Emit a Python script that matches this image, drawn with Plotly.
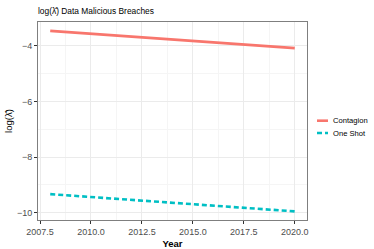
import plotly.graph_objects as go

years = [2008, 2020]
contagion = [-3.46, -4.08]
one_shot = [-9.33, -9.95]
series_names = ["Contagion", "One Shot"]
series_colors = ["#F8766D", "#00BFC4"]
series_dash = ["solid", "5px,3px"]

x_ticks = [2007.5, 2010.0, 2012.5, 2015.0, 2017.5, 2020.0]
x_tick_labels = ["2007.5", "2010.0", "2012.5", "2015.0", "2017.5", "2020.0"]
y_ticks = [-10, -8, -6, -4]
y_tick_labels = ["\u221210", "\u22128", "\u22126", "\u22124"]

font_family = "Liberation Sans, Arial, sans-serif"

W, H = 374, 249
L, R, T, B = 38, 67, 22, 29
pw, ph = W - L - R, H - T - B

fig = go.Figure()
for name, vals, col, dsh in zip(series_names, [contagion, one_shot], series_colors, series_dash):
    fig.add_trace(go.Scatter(x=years, y=vals, mode="lines", name=name, showlegend=False,
                             line=dict(color=col, width=2.6, dash=dsh)))

axis_common = dict(
    showline=True, linecolor="#7F7F7F", linewidth=1, mirror=True,
    ticks="outside", ticklen=3, tickcolor="#333333", tickwidth=1,
    showgrid=True, gridcolor="#EBEBEB", gridwidth=1,
    zeroline=False,
    tickfont=dict(family=font_family, size=9, color="#4D4D4D"),
)

fig.update_xaxes(
    range=[2007.4, 2020.6], tickvals=x_ticks, ticktext=x_tick_labels,
    minor=dict(showgrid=True, gridcolor="#F5F5F5", tickvals=[2008.75, 2011.25, 2013.75, 2016.25, 2018.75], ticks=""),
    title=dict(text="<b>Year</b>", font=dict(family=font_family, size=9.5, color="#000000"), standoff=4),
    **axis_common,
)
fig.update_yaxes(
    range=[-10.26, -3.14], tickvals=y_ticks, ticktext=y_tick_labels,
    minor=dict(showgrid=True, gridcolor="#F5F5F5", tickvals=[-9, -7, -5, -3], ticks=""),
    title=dict(text="log(\u03bb\u0302)", font=dict(family=font_family, size=9.5, color="#000000"), standoff=2),
    **axis_common,
)

# manual legend (outside plot area, in the right margin)
def px_to_paper_x(px):
    return (px - L) / pw

def py_to_paper_y(py):
    return (H - B - py) / ph

legend_rows = [120.7, 133.0]
for name, col, dsh, py in zip(series_names, series_colors, series_dash, legend_rows):
    fig.add_shape(type="line", xref="paper", yref="paper",
                  x0=px_to_paper_x(317), x1=px_to_paper_x(328),
                  y0=py_to_paper_y(py), y1=py_to_paper_y(py),
                  line=dict(color=col, width=2.6, dash=dsh))
    fig.add_annotation(text=name, xref="paper", yref="paper",
                       x=px_to_paper_x(331), y=py_to_paper_y(py),
                       xanchor="left", yanchor="middle", showarrow=False,
                       font=dict(family=font_family, size=7.6, color="#000000"))

fig.update_layout(
    width=W, height=H,
    margin=dict(l=L, r=R, t=T, b=B, autoexpand=False),
    paper_bgcolor="white", plot_bgcolor="white",
    showlegend=False,
    title=dict(text="log(\u03bb\u0302) Data Malicious Breaches", x=L / W, xanchor="left",
               y=1 - 11 / H, yanchor="middle",
               font=dict(family=font_family, size=8.4, color="#000000")),
)

fig.write_html("out.html", config={"displayModeBar": False},
               post_script="document.body.style.margin='0px';")
